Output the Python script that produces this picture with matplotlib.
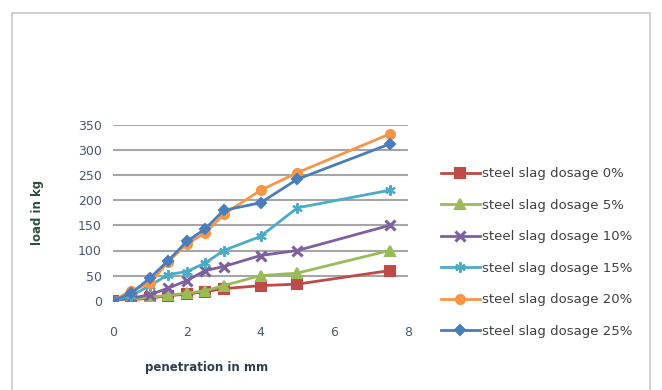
import matplotlib.pyplot as plt
from matplotlib.patches import Rectangle

# penetration readings (mm)
penetration = [0, 0.5, 1, 1.5, 2, 2.5, 3, 4, 5, 7.5]

# load in kg for each steel slag dosage
load_0 = [0, 2, 5, 10, 13, 18, 24, 30, 33, 60]
load_5 = [0, 3, 7, 11, 15, 20, 30, 50, 55, 100]
load_10 = [0, 5, 12, 25, 40, 60, 68, 90, 100, 150]
load_15 = [0, 10, 30, 52, 58, 75, 100, 128, 185, 220]
load_20 = [0, 20, 35, 78, 113, 135, 172, 220, 255, 332]
load_25 = [0, 15, 45, 80, 118, 143, 180, 195, 242, 312]

labels = ["steel slag dosage 0%", "steel slag dosage 5%", "steel slag dosage 10%",
          "steel slag dosage 15%", "steel slag dosage 20%", "steel slag dosage 25%"]
xticks = [0, 2, 4, 6, 8]
yticks = [0, 50, 100, 150, 200, 250, 300, 350]

fig = plt.figure(figsize=(6.62, 3.9), dpi=100)

# outer chart frame
fig.patches.append(Rectangle((12/662, -0.1), 638/662, 1.1 - 13/390, transform=fig.transFigure,
                             fill=False, edgecolor="#c8c8c8", linewidth=1.2))

ax = fig.add_axes([113/662, 1 - 300.7/390, 295/662, 175.7/390])

series = [load_0, load_5, load_10, load_15, load_20, load_25]
colors = ["#be4b48", "#9bbb59", "#7d60a0", "#4bacc6", "#f79646", "#4a7ebb"]
markers = ["s", "^", "x", (6, 2, 0), "o", "D"]
sizes = [6.5, 6.5, 6.5, 7.5, 6.5, 5.5]

for y, c, m, s, lab in zip(series, colors, markers, sizes, labels):
    mew = 2.2 if m == "x" else 1.5
    ax.plot(penetration, y, color=c, marker=m, markersize=s, linewidth=2.0,
            markeredgewidth=mew, markeredgecolor=c, label=lab)

ax.set_xlim(0, 8)
ax.set_ylim(0, 350)
ax.set_xticks(xticks)
ax.set_yticks(yticks)
ax.grid(axis="y", color="#a6a6a6", linewidth=1.5)
ax.get_ygridlines()[0].set_visible(False)
ax.set_axisbelow(True)
for sp in ax.spines.values():
    sp.set_visible(False)
ax.tick_params(length=0, labelsize=9, colors="#4a5a70")
ax.tick_params(axis="x", pad=18)
ax.tick_params(axis="y", pad=8)

fig.text(37/662, 1 - 212/390, "load in kg", rotation=90, ha="center", va="center",
         fontsize=8.5, fontweight="bold", color="#2f4f3f")
fig.text(207/662, 1 - 367/390, "penetration in mm", ha="center", va="center",
         fontsize=8.5, fontweight="bold", color="#2f3f50")

ax.legend(loc="upper left", bbox_to_anchor=(436/662, 1 - 162/390), bbox_transform=fig.transFigure,
          frameon=False, fontsize=9.5, handlelength=2.9, handletextpad=0.2,
          labelspacing=1.4, borderaxespad=0, labelcolor="#404040")

fig.savefig("out.png", dpi=100)
